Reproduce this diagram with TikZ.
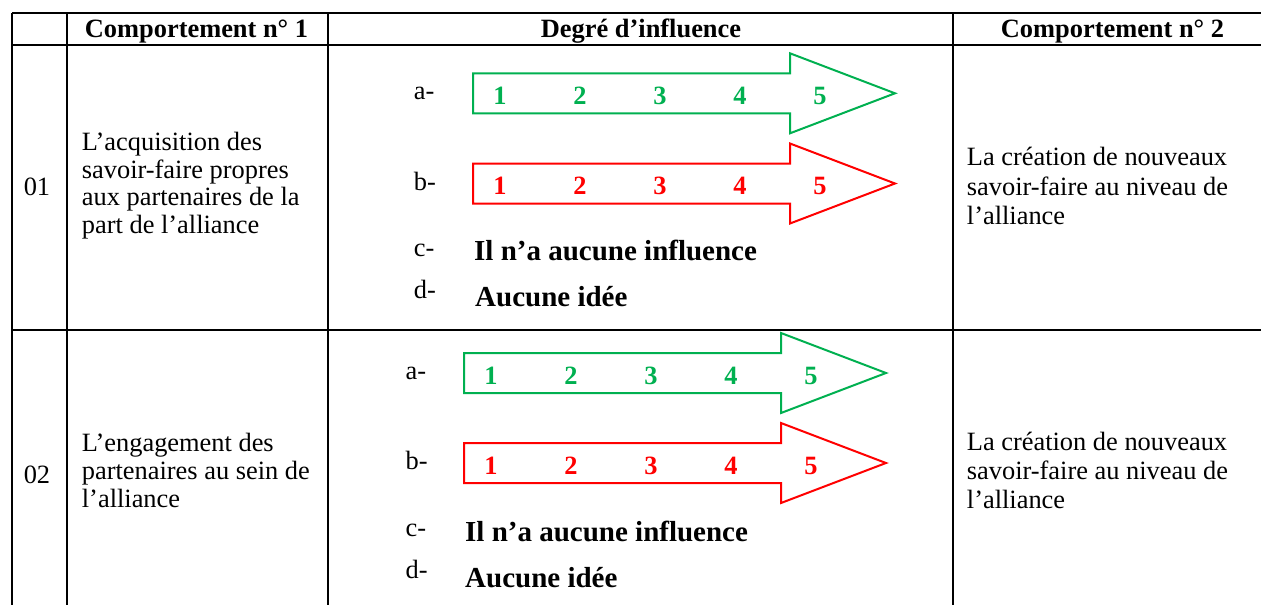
\documentclass[tikz,border=0pt]{standalone}
\usepackage{fontspec}
\setmainfont{Liberation Serif}
\definecolor{scalegreen}{HTML}{00B050}
\definecolor{scalered}{HTML}{FF0000}
\tikzset{
  rule/.style={line width=2.8pt},
  txt/.style={font=\fontsize{26.4}{27.7}\selectfont, inner sep=0pt, align=left, anchor=west},
  txtwide/.style={font=\fontsize{26.4}{29.3}\selectfont, inner sep=0pt, align=left, anchor=west},
  head/.style={font=\fontsize{26.4}{30}\selectfont\bfseries, inner sep=0pt, anchor=base},
  num/.style={font=\fontsize{26.4}{30}\selectfont, inner sep=0pt},
  item/.style={font=\fontsize{26.4}{30}\selectfont, inner sep=0pt, anchor=base west},
  choice/.style={font=\fontsize{29}{32}\selectfont\bfseries, inner sep=0pt, anchor=base west},
  digit/.style={font=\fontsize{26.4}{30}\selectfont\bfseries, inner sep=0pt, anchor=base},
  % outlined block arrow carrying the scale 1 to 5
  pics/scalearrow/.style={code={
    \draw[line width=2pt, miter limit=10]
      (0,-20) -- (317,-20) -- (317,-40) -- (422,0) -- (317,40) -- (317,20) -- (0,20) -- cycle;
    \foreach \k in {1,...,5}
      \node[digit] (-d\k) at ({27+80*(\k-1)},11) {\k};
  }}
}
\begin{document}
\begin{tikzpicture}[x=1pt, y=-1pt]
\useasboundingbox (0,0) rectangle (1261,605);

% table rules
\draw[rule] (12,13) -- (1261,13);
\draw[rule] (12,45) -- (1261,45);
\draw[rule] (12,330) -- (1261,330);
\foreach \cx in {12,67,328,953}
  \draw[rule] (\cx,13) -- (\cx,605);

% header
\node[head] (h1) at (196.5,37.3) {Comportement n° 1};
\node[head] (h2) at (641,37.3) {Degré d’influence};
\node[head] (h3) at (1112.5,37.3) {Comportement n° 2};

% row 01
\node[num] (n1) at (37,186.7) {01};
\node[txt] (b1) at (81.7,185.5) {L’acquisition des\\savoir-faire propres\\aux partenaires de la\\part de l’alliance};
\node[txtwide] (c1) at (966.7,186) {La création de nouveaux\\savoir-faire au niveau de\\l’alliance};
\pic[scalegreen] (g1) at (473,93.3) {scalearrow};
\pic[scalered] (r1) at (473,183.5) {scalearrow};
\node[item] (la1) at (413.7,99) {a-};
\node[item] (lb1) at (413.7,190.5) {b-};
\node[item] (lc1) at (413.7,256) {c-};
\node[item] (ld1) at (413.7,298) {d-};
\node[choice] (oc1) at (474,260) {Il n’a aucune influence};
\node[choice] (od1) at (475,306) {Aucune idée};

% row 02
\node[num] (n2) at (37,475) {02};
\node[txt] (b2) at (81.7,470.4) {L’engagement des\\partenaires au sein de\\l’alliance};
\node[txtwide] (c2) at (966.7,470.3) {La création de nouveaux\\savoir-faire au niveau de\\l’alliance};
\pic[scalegreen] (g2) at (464,373) {scalearrow};
\pic[scalered] (r2) at (464,463) {scalearrow};
\node[item] (la2) at (405.5,379) {a-};
\node[item] (lb2) at (405.5,469.5) {b-};
\node[item] (lc2) at (405.5,536.5) {c-};
\node[item] (ld2) at (405.5,578) {d-};
\node[choice] (oc2) at (465,541) {Il n’a aucune influence};
\node[choice] (od2) at (465,587) {Aucune idée};
\end{tikzpicture}
\end{document}
